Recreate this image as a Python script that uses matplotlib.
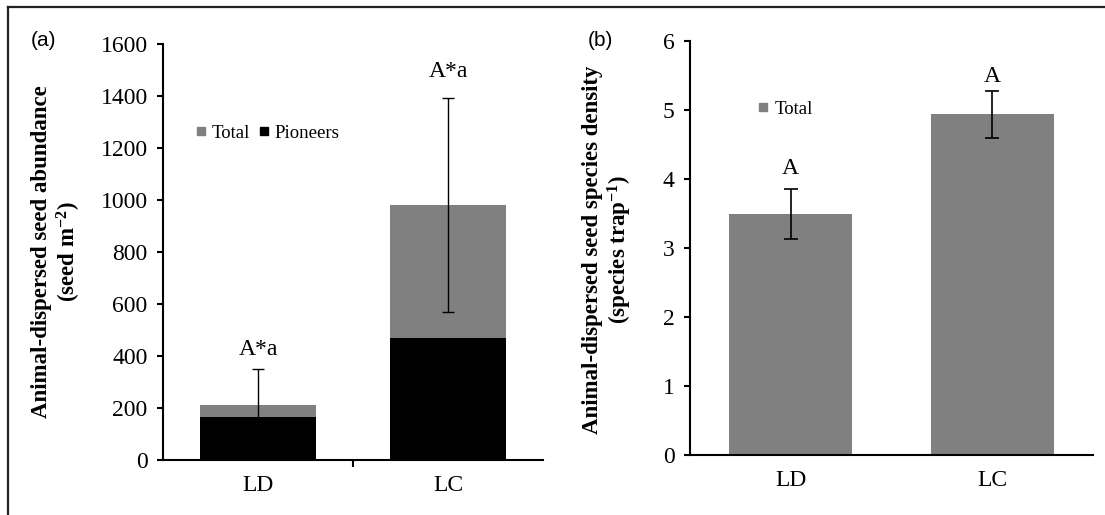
import matplotlib
matplotlib.use("Agg")
import matplotlib.pyplot as plt
from matplotlib.lines import Line2D

plt.rcParams['font.family'] = ['Liberation Serif', 'DejaVu Serif']
plt.rcParams['mathtext.fontset'] = 'custom'
plt.rcParams['mathtext.rm'] = 'Liberation Serif:bold'
plt.rcParams['mathtext.default'] = 'rm'

# data
sites = ["LD", "LC"]
abund_total = [211, 982]
abund_pioneers = [166, 468]
abund_err = [138, 411]
abund_labels = ["A*a", "A*a"]

density_total = [3.49, 4.94]
density_err = [0.36, 0.34]
density_labels = ["A", "A"]

gray = "#808080"
x = [1, 2]

fig = plt.figure(figsize=(11.05, 5.15), dpi=100)

# figure frame (top and left edges)
fig.add_artist(Line2D([8/1105, 8/1105], [0, 1-7/515], color="#222222", lw=1.6))
fig.add_artist(Line2D([8/1105, 1], [1-7/515, 1-7/515], color="#222222", lw=1.6))

def style_axes(ax, ymax, ystep):
    for s in ["top", "right"]:
        ax.spines[s].set_visible(False)
    ax.spines["left"].set_linewidth(1.5)
    ax.spines["bottom"].set_linewidth(1.5)
    ax.set_xlim(0.5, 2.5)
    ax.set_ylim(0, ymax)
    ax.set_yticks([i * ystep for i in range(int(round(ymax / ystep)) + 1)])
    ax.set_xticks(x)
    ax.set_xticklabels(sites, fontsize=17)
    ax.tick_params(axis="x", length=0, pad=11)
    ax.tick_params(axis="y", direction="out", length=4, width=1.5, labelsize=17, pad=7)

# ---- panel (a)
ax1 = fig.add_axes([163/1105, 55/515, 380/1105, 416/515])
ax1.bar(x, abund_total, width=0.615, color=gray, zorder=2)
ax1.bar(x, abund_pioneers, width=0.615, color="black", zorder=3)
ax1.errorbar(x, abund_total, yerr=abund_err, fmt="none", ecolor="black",
             elinewidth=1, capsize=4, capthick=1, zorder=4)
style_axes(ax1, 1600, 200)
ax1.set_xticks([1.5], minor=True)
ax1.tick_params(axis="x", which="minor", direction="out", length=5, width=1.5)
for xi, v, e, lab, off in zip(x, abund_total, abund_err, abund_labels, [14, 19]):
    ax1.annotate(lab, (xi, v + e), xytext=(0, off), textcoords="offset points",
                 ha="center", va="center", fontsize=17)
h1 = [Line2D([], [], marker="s", color=gray, ls="none", markersize=6),
      Line2D([], [], marker="s", color="black", ls="none", markersize=6)]
ax1.legend(h1, ["Total", "Pioneers"], ncol=2, frameon=False, fontsize=13.5,
           handlelength=0.6, handletextpad=0.3, columnspacing=0.4,
           loc="center left", bbox_to_anchor=(0.06, 0.785), borderpad=0)
fig.text(57/1105, 1 - 252/515,
         "Animal-dispersed seed abundance\n(seed m$^{-2}$)",
         rotation=90, ha="center", va="center", fontsize=16.5,
         fontweight="bold", linespacing=1.1)
fig.text(43/1105, 1 - 41/515, "(a)", family="Liberation Sans", fontsize=15,
         ha="center", va="center")

# ---- panel (b)
ax2 = fig.add_axes([690/1105, 60/515, 403/1105, 414/515])
ax2.bar(x, density_total, width=0.61, color=gray, zorder=2)
ax2.errorbar(x, density_total, yerr=density_err, fmt="none", ecolor="black",
             elinewidth=1.2, capsize=5, capthick=1.2, zorder=4)
style_axes(ax2, 6, 1)
for xi, v, e, lab, off in zip(x, density_total, density_err, density_labels, [15, 10]):
    ax2.annotate(lab, (xi, v + e), xytext=(0, off), textcoords="offset points",
                 ha="center", va="center", fontsize=17)
h2 = [Line2D([], [], marker="s", color=gray, ls="none", markersize=6)]
ax2.legend(h2, ["Total"], frameon=False, fontsize=13.5,
           handlelength=0.6, handletextpad=0.3,
           loc="center left", bbox_to_anchor=(0.145, 0.835), borderpad=0)
fig.text(608/1105, 1 - 250/515,
         "Animal-dispersed seed species density\n(species trap$^{-1}$)",
         rotation=90, ha="center", va="center", fontsize=16.5,
         fontweight="bold", linespacing=1.1)
fig.text(600/1105, 1 - 41/515, "(b)", family="Liberation Sans", fontsize=15,
         ha="center", va="center")

fig.savefig("out.png", dpi=100)
